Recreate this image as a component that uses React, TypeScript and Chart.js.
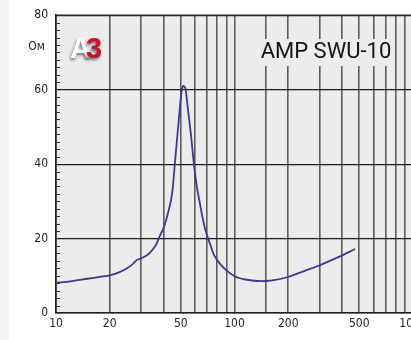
import React, { useEffect, useRef } from 'react';
import { Chart, registerables } from 'chart.js';
Chart.register(...registerables);

const freqs = [10, 12, 15, 17.6, 20, 22.7, 25, 27, 28.3, 29.4, 31.5, 33.4, 36, 38, 40, 41.4, 43, 44.2, 45.2, 46, 47, 48, 49.5, 50.5, 51.6, 53, 54.6, 57, 59.4, 61.5, 63.5, 66, 69, 73, 77, 83, 89.4, 97, 106, 115, 134, 150, 169, 197, 249, 296, 381, 474];
const impedance = [8.1, 8.5, 9.2, 9.7, 10.1, 11.0, 12.0, 13.2, 14.2, 14.5, 15.2, 16.1, 18.0, 20.5, 22.8, 25, 28, 30.6, 34, 38.4, 43.5, 48.3, 55.5, 59.5, 61, 60.5, 55.5, 48, 39.5, 34, 30.3, 26, 22, 18.5, 15.5, 13.2, 11.6, 10.3, 9.4, 9.0, 8.6, 8.6, 8.9, 9.6, 11.4, 12.7, 15.0, 17.2];
const xTickLabels = [10, 20, 50, 100, 200, 500, 1000];
const yMajorStep = 20;
const yMinorStep = 2;
const unitLabel = 'Ом';
const modelLabel = 'AMP SWU-10';
const logoA = 'A';
const logo3 = '3';

const FONT = '"DejaVu Sans Condensed", "DejaVu Sans", sans-serif';

export default function App() {
  const ref = useRef<HTMLCanvasElement>(null);
  useEffect(() => {
    const canvas = ref.current!;
    const plugin = {
      id: 'decor',
      beforeDraw(chart: any) {
        const { ctx, chartArea } = chart;
        ctx.save();
        ctx.fillStyle = '#ececec';
        ctx.fillRect(chartArea.left, chartArea.top, chart.width - chartArea.left, chartArea.bottom - chartArea.top);
        ctx.restore();
      },
      beforeDatasetsDraw(chart: any) {
        const { ctx, chartArea } = chart;
        const ys = chart.scales.y;
        ctx.save();
        ctx.strokeStyle = '#333';
        ctx.lineWidth = 1;
        for (let v = 0; v <= 80; v += yMinorStep) {
          if (v % yMajorStep === 0) continue;
          const py = Math.round(ys.getPixelForValue(v)) + 0.5;
          ctx.beginPath();
          ctx.moveTo(chartArea.left, py);
          ctx.lineTo(chartArea.left + 4, py);
          ctx.stroke();
        }
        ctx.strokeStyle = '#2a2a2a';
        ctx.lineWidth = 1.5;
        ctx.beginPath();
        ctx.moveTo(chartArea.left, chartArea.top);
        ctx.lineTo(chart.width, chartArea.top);
        ctx.stroke();
        ctx.fillStyle = '#ececec';
        ctx.fillRect(259, 39, 132, 27);
        ctx.fillStyle = '#151515';
        ctx.font = '22px Roboto, sans-serif';
        ctx.textAlign = 'center';
        ctx.textBaseline = 'middle';
        ctx.fillText(modelLabel, 326, 52);
        ctx.font = 'bold 29px "Liberation Sans", Arial, sans-serif';
        ctx.textAlign = 'left';
        ctx.textBaseline = 'alphabetic';
        ctx.shadowColor = 'rgba(0,0,0,0.55)';
        ctx.shadowBlur = 3;
        ctx.shadowOffsetX = -1;
        ctx.shadowOffsetY = 2;
        ctx.fillStyle = '#ffffff';
        ctx.fillText(logoA, 70, 58);
        ctx.fillStyle = '#c8171e';
        ctx.fillText(logo3, 86, 58);
        ctx.shadowColor = 'transparent';
        ctx.fillStyle = '#222';
        ctx.font = '12px ' + FONT;
        ctx.textAlign = 'right';
        ctx.textBaseline = 'middle';
        ctx.fillText(unitLabel, chartArea.left - 11, ys.getPixelForValue(71.5));
        ctx.restore();
      },
    };
    const chart = new Chart(canvas, {
      type: 'line',
      data: {
        datasets: [
          {
            data: freqs.map((f, i) => ({ x: f, y: impedance[i] })),
            borderColor: '#3c3a8e',
            borderWidth: 1.8,
            pointRadius: 0,
            tension: 0.3,
            fill: false,
          },
        ],
      },
      options: {
        responsive: false,
        animation: false,
        devicePixelRatio: 1,
        layout: { padding: { left: 0, top: 15, right: 27, bottom: 0 } },
        plugins: { legend: { display: false }, tooltip: { enabled: false } },
        scales: {
          x: {
            type: 'logarithmic',
            min: 10,
            max: 1000,
            afterFit: (s: any) => { s.height = 27; },
            grid: { color: '#5c5c5c', lineWidth: 1.6, drawTicks: false },
            border: { color: '#1e1e1e', width: 1.6 },
            ticks: {
              autoSkip: false,
              maxRotation: 0,
              padding: 4,
              color: '#222',
              font: { family: FONT, size: 12 },
              callback: (v: any) => (xTickLabels.includes(Number(v)) ? String(v) : ''),
            },
          },
          y: {
            type: 'linear',
            min: 0,
            max: 80,
            afterFit: (s: any) => { s.width = 56; },
            grid: {
              color: (c: any) => (c.tick && c.tick.value % yMajorStep === 0 ? '#1a1a1a' : 'transparent'),
              lineWidth: 1.2,
              drawTicks: false,
            },
            border: { color: '#1e1e1e', width: 1.6 },
            ticks: {
              stepSize: yMajorStep,
              padding: 8,
              color: '#222',
              font: { family: FONT, size: 12 },
            },
          },
        },
      },
      plugins: [plugin],
    } as any);
    return () => chart.destroy();
  }, []);
  return (
    <div style={{ position: 'absolute', left: 0, top: 0, width: 411, height: 340, overflow: 'hidden', background: '#fff' }}>
      <div style={{ position: 'absolute', left: 0, top: 0, width: 9, height: 340, background: '#f4f4f4' }} />
      <canvas ref={ref} width={440} height={340} style={{ position: 'absolute', left: 0, top: 0, width: 440, height: 340 }} />
    </div>
  );
}
